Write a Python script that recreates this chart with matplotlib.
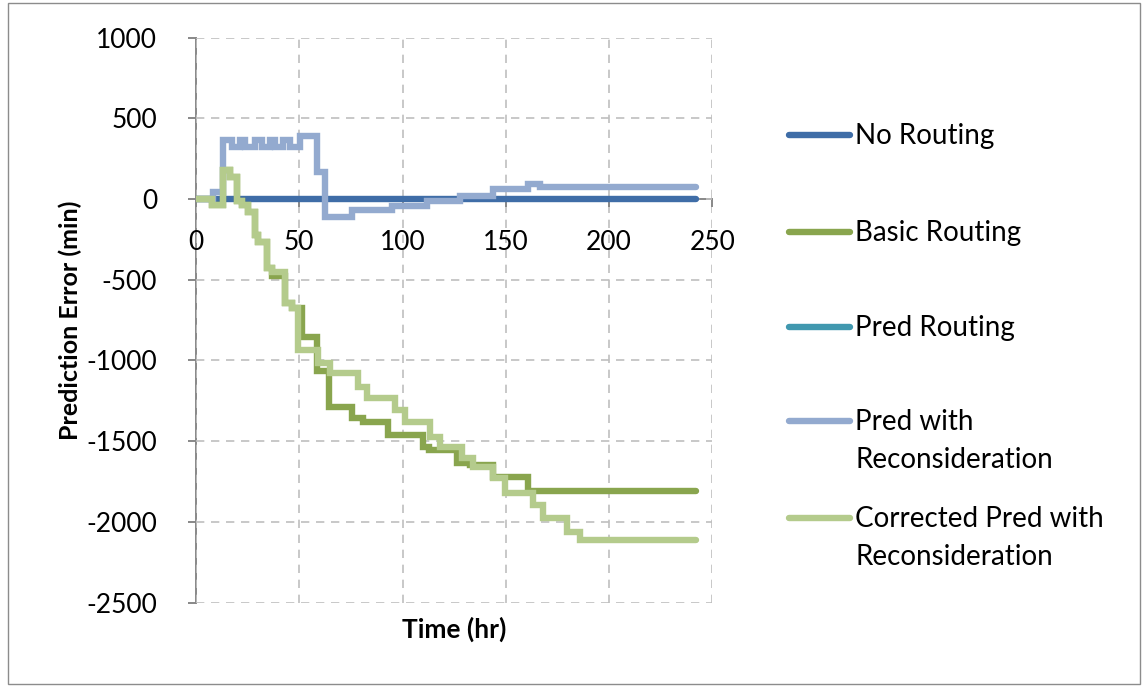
import matplotlib
matplotlib.use("Agg")
import matplotlib.pyplot as plt
from matplotlib.lines import Line2D
from matplotlib.patches import Rectangle

plt.rcParams['font.family'] = ['Lato', 'DejaVu Sans']
plt.rcParams['axes.unicode_minus'] = False

# series (step data, time in hr, error in min)
no_t = [0, 242]
no_v = [0, 0]

pred_t = []
pred_v = []

recon_t = [0, 8.4, 13.1, 17.4, 21.3, 23.7, 28.6, 31.9, 35.8, 38.2, 42.1, 45.5,
           50.3, 58.6, 62.4, 75.4, 94.7, 111.6, 127.8, 143.9, 160.8, 166.5, 242]
recon_v = [0, 45, 365, 320, 365, 320, 365, 320, 365, 320, 365, 320,
           390, 170, -110, -70, -45, -15, 20, 60, 95, 75, 75]

basic_t = [0, 7.6, 13.2, 16.5, 19.7, 22.1, 25.3, 28.6, 30.2, 34.2, 36.6, 43.1,
           46.3, 51.2, 58.4, 64.5, 75.4, 81, 93.1, 110, 113, 126.2, 132.6,
           143.9, 160.8, 242]
basic_v = [0, -35, 180, 138, -10, -40, -78, -225, -264, -430, -475, -646,
           -677, -852, -1065, -1290, -1358, -1379, -1461, -1534, -1554, -1637,
           -1650, -1719, -1810, -1810]

corr_t = [0, 7.6, 13.2, 16.5, 19.7, 22.1, 25.3, 28.6, 30.2, 34.2, 36.6, 43.1,
          46.3, 49.5, 59.0, 64.9, 78.6, 82.6, 96.3, 101.2, 113.3, 118.1, 128.6,
          134.2, 143.9, 149.6, 163.3, 168.1, 179.4, 185.9, 242]
corr_v = [0, -35, 180, 138, -10, -40, -78, -225, -264, -430, -450, -646,
          -677, -935, -1017, -1079, -1162, -1234, -1307, -1379, -1472, -1534,
          -1606, -1658, -1730, -1823, -1895, -1977, -2060, -2110, -2110]

labels = ['No Routing', 'Basic Routing', 'Pred Routing',
          'Pred with\nReconsideration', 'Corrected Pred with\nReconsideration']
colors = ['#3F6DA7', '#89A54E', '#4198AF', '#93AACF', '#B4CB8C']

fig = plt.figure(figsize=(11.44, 6.86), dpi=100)
ax = fig.add_axes([0.1713, 0.1214, 0.4515, 0.8239])

lw = 4.6
series = [(no_t, no_v), (basic_t, basic_v), (pred_t, pred_v),
          (recon_t, recon_v), (corr_t, corr_v)]
for (t, v), c in zip(series, colors):
    ax.plot(t, v, drawstyle='steps-post', color=c, lw=lw,
            solid_capstyle='round', solid_joinstyle='miter')

ax.set_xlim(0, 250)
ax.set_ylim(-2500, 1000)
ax.set_xticks(range(0, 251, 50))
ax.set_yticks(range(-2500, 1001, 500))
ax.grid(True, color='#BFBFBF', ls=(0, (5, 4)), lw=1.2)
ax.set_axisbelow(True)

ax.spines['top'].set_visible(False)
ax.spines['right'].set_visible(False)
ax.spines['bottom'].set_position(('data', 0))
for s in ['left', 'bottom']:
    ax.spines[s].set_color('#888888')
    ax.spines[s].set_linewidth(1.4)
    ax.spines[s].set_zorder(0.5)
ax.tick_params(axis='both', colors='#888888', length=6, width=1.4,
               labelsize=19, labelcolor='black')
ax.tick_params(axis='y', pad=22)
ax.tick_params(axis='x', pad=16)

ax.set_xlabel('Time (hr)', fontsize=19, fontweight='bold')
ax.xaxis.set_label_coords(0.5, -0.025)
ax.set_ylabel('Prediction Error (min)', fontsize=18, fontweight='bold')
ax.yaxis.set_label_coords(-0.22, 0.5)

# legend, drawn by hand to match Excel's spacing
W, H = 1144, 686
leg_y = [135, 232, 327, 421, 518]
for lab, c, y in zip(labels, colors, leg_y):
    fig.add_artist(Line2D([789 / W, 850 / W], [1 - y / H, 1 - y / H],
                          color=c, lw=lw, solid_capstyle='round'))
    fig.text(855 / W, 1 - (y - 12) / H, lab, fontsize=20, va='top',
             ha='left', linespacing=1.55)

fig.add_artist(Rectangle((8 / W, 2 / H), 1 - 12 / W, 1 - 5 / H,
                         fill=False, ec='#8C8C8C', lw=1))

fig.savefig('out.png', dpi=100)
